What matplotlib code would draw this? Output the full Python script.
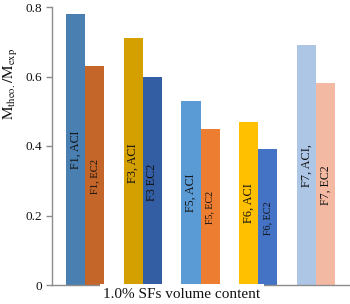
import numpy as np
import matplotlib
matplotlib.use("Agg")
import matplotlib.pyplot as plt

plt.rcParams['font.family'] = ['Liberation Serif', 'DejaVu Serif']
plt.rcParams['mathtext.fontset'] = 'stix'

# --- data ---
groups = ['F1', 'F3', 'F5', 'F6', 'F7']
aci_vals = [0.78, 0.71, 0.53, 0.47, 0.69]
ec2_vals = [0.63, 0.60, 0.45, 0.39, 0.58]
aci_labels = ['F1, ACI', 'F3, ACI', 'F5, ACI', 'F6, ACI', 'F7, ACI,']
ec2_labels = ['F1, EC2', 'F3 EC2', 'F5, EC2', 'F6, EC2', 'F7, EC2']

aci_colors = ['#4a7fb2', '#d4a000', '#5b9bd5', '#ffc000', '#adc6e6']
ec2_colors = ['#c4652a', '#345ea3', '#ed7d31', '#4472c4', '#f4b9a3']

# label placement (height of the rotated text centre) and size
aci_text_y = [0.388, 0.351, 0.265, 0.236, 0.345]
ec2_text_y = [0.311, 0.296, 0.222, 0.193, 0.288]
aci_fs = [8.6, 8.8, 8.6, 8.8, 8.8]
ec2_fs = [7.6, 8.7, 7.2, 7.3, 8.6]

fig = plt.figure(figsize=(3.5, 3.04), dpi=100)
ax = fig.add_axes([52/350, 19/304, 297/350, 278/304])

x = np.arange(len(groups))
w = 0.33
ax.bar(x - w/2, aci_vals, w, color=aci_colors)
ax.bar(x + w/2, ec2_vals, w, color=ec2_colors)

for i in range(len(groups)):
    ax.text(x[i] - w/2, aci_text_y[i], aci_labels[i], rotation=90,
            ha='center', va='center', fontsize=aci_fs[i], color='#111111')
    ax.text(x[i] + w/2, ec2_text_y[i], ec2_labels[i], rotation=90,
            ha='center', va='center', fontsize=ec2_fs[i], color='#111111')

ax.set_xlim(-0.571, 4.571)
ax.set_ylim(0, 0.8)
ax.set_yticks([0, 0.2, 0.4, 0.6, 0.8])
ax.set_yticklabels(['0', '0.2', '0.4', '0.6', '0.8'])
ax.set_xticks([])
for s in ('top', 'right'):
    ax.spines[s].set_visible(False)
for s in ('left', 'bottom'):
    ax.spines[s].set_color('#8c8c8c')
    ax.spines[s].set_linewidth(1.0)
ax.tick_params(axis='y', colors='#8c8c8c', labelcolor='#111111',
               labelsize=9.5, length=4, width=1.0, pad=3)

ax.text(0.4377, -0.034, '1.0% SFs volume content', transform=ax.transAxes,
        ha='center', va='center', fontsize=11, color='#111111',
        bbox=dict(boxstyle='square,pad=0.25', fc='white', ec='none'),
        clip_on=False, zorder=5)

fig.text(11/350, 1 - 84/304, r'$\mathrm{M_{theo.}/M_{exp}}$', rotation=90,
         ha='center', va='center', fontsize=11, color='#111111')

fig.savefig('out.png', dpi=100)
